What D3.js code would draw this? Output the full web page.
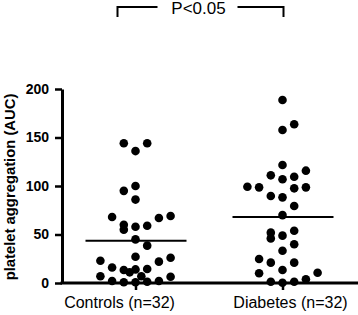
<!DOCTYPE html>
<html>
<head>
<meta charset="utf-8">
<script src="https://cdn.jsdelivr.net/npm/d3@7"></script>
<style>
  body { margin: 0; background: #fff; }
  svg { display: block; font-family: "Liberation Sans", Arial, sans-serif; }
</style>
</head>
<body>
<div id="chart"></div>
<script>
// Groups and tick values
const groups = ["Controls (n=32)", "Diabetes (n=32)"];
const yTicks = [0, 50, 100, 150, 200];

// Platelet aggregation (AUC) per subject
const controls = [144, 144, 136, 100, 95, 86, 68, 67, 69, 60, 55, 58, 59, 45, 38.5, 27,
  23, 26, 22, 16, 13.4, 11, 14, 14.4, 7, 7, 6.5, 2, 0.7, 0.7, 1.3, 2];
// swarm column of each point (slot left/right of the group centre)
const controlsCol = [-1, 1, 0, 0, -1, 0, -2, 2, 3, -1, -1, 0, 1, 0, 1, 0,
  -3, 3, 2, -2, -1, -0.5, 0, 1, -3, 0.5, 3, -2, -1, 0, 1, 2];

const diabetes = [188.7, 157.7, 163.6, 121.6, 111, 115.8, 107, 109.6, 99.3, 98.6, 97.6, 98.6,
  89.7, 88.3, 79.4, 70, 51.9, 46, 48.8, 53.9, 39.9, 33.3, 24.7, 21, 21, 13.4, 10, 10.6,
  1.3, 0.3, 1.3, 3.8];
const diabetesCol = [0, 0, 1, 0, -1, 2, 0, 1, -3, -2, 1, 2,
  -1, 0, 1, 0, -1, -1, 0, 1, 1, 0, -2, -1, 1, 0, -2, 3,
  -1, 0, 1, 2];

// group means (horizontal bars)
const means = [43.5, 68];
const pLabel = "P<0.05";

const width = 358, height = 315;

const svg = d3.select("#chart").append("svg")
  .attr("width", width)
  .attr("height", height);

// scales
const x = d3.scalePoint()
  .domain(groups)
  .range([62, 356])
  .padding(0.5);

const y = d3.scaleLinear()
  .domain([0, 200])
  .range([283, 89]);

const slot = d3.scaleLinear().domain([0, 1]).range([0, 11.7]);

// y axis
const yAxis = svg.append("g")
  .attr("transform", "translate(62,0)")
  .call(d3.axisLeft(y).tickValues(yTicks).tickSize(7).tickSizeOuter(0).tickPadding(6));
yAxis.select(".domain").attr("stroke-width", 3);
yAxis.selectAll(".tick line").attr("stroke-width", 2.5);
yAxis.selectAll(".tick text")
  .style("font-size", "14px")
  .style("font-weight", "bold")
  .attr("fill", "#000");

// x axis
const xAxis = svg.append("g")
  .attr("transform", `translate(0,${y(0)})`)
  .call(d3.axisBottom(x).tickSize(7).tickSizeOuter(0).tickFormat(""));
xAxis.select(".domain").remove();
xAxis.selectAll(".tick line").attr("stroke-width", 2.5);
svg.append("line")
  .attr("x1", 60.5).attr("x2", width)
  .attr("y1", y(0)).attr("y2", y(0))
  .attr("stroke", "#000")
  .attr("stroke-width", 3);

// group labels (sit a little off the tick, as in the original)
const labelShift = [-16, 8];
svg.selectAll(".glabel")
  .data(groups)
  .enter()
  .append("text")
  .attr("class", "glabel")
  .attr("x", (d, i) => x(d) + labelShift[i])
  .attr("y", 308)
  .attr("text-anchor", "middle")
  .style("font-size", "16px")
  .text(d => d);

// y title
svg.append("text")
  .attr("transform", `translate(15,${y(100) + 1}) rotate(-90)`)
  .attr("text-anchor", "middle")
  .style("font-size", "14.8px")
  .style("font-weight", "bold")
  .text("platelet aggregation (AUC)");

// dots
const series = [
  { g: groups[0], vals: controls, cols: controlsCol },
  { g: groups[1], vals: diabetes, cols: diabetesCol }
];
series.forEach(s => {
  svg.selectAll(null)
    .data(s.vals)
    .enter()
    .append("circle")
    .attr("cx", (d, i) => x(s.g) + slot(s.cols[i]))
    .attr("cy", d => y(d))
    .attr("r", 4.3)
    .attr("fill", "#000");
});

// mean lines
svg.selectAll(".mean")
  .data(means)
  .enter()
  .append("line")
  .attr("class", "mean")
  .attr("x1", (d, i) => x(groups[i]) - 50)
  .attr("x2", (d, i) => x(groups[i]) + 51)
  .attr("y1", d => y(d))
  .attr("y2", d => y(d))
  .attr("stroke", "#000")
  .attr("stroke-width", 2);

// significance bracket
const bx1 = x(groups[0]) - 18, bx2 = x(groups[1]) + 1;
const by = 7, bmid = (bx1 + bx2) / 2;
svg.append("path")
  .attr("d", `M${bx1},17V${by}H${bmid - 43}M${bmid + 37},${by}H${bx2}V17`)
  .attr("fill", "none")
  .attr("stroke", "#000")
  .attr("stroke-width", 2);
svg.append("text")
  .attr("x", bmid - 2)
  .attr("y", 14)
  .attr("text-anchor", "middle")
  .style("font-size", "17px")
  .text(pLabel);
</script>
</body>
</html>
